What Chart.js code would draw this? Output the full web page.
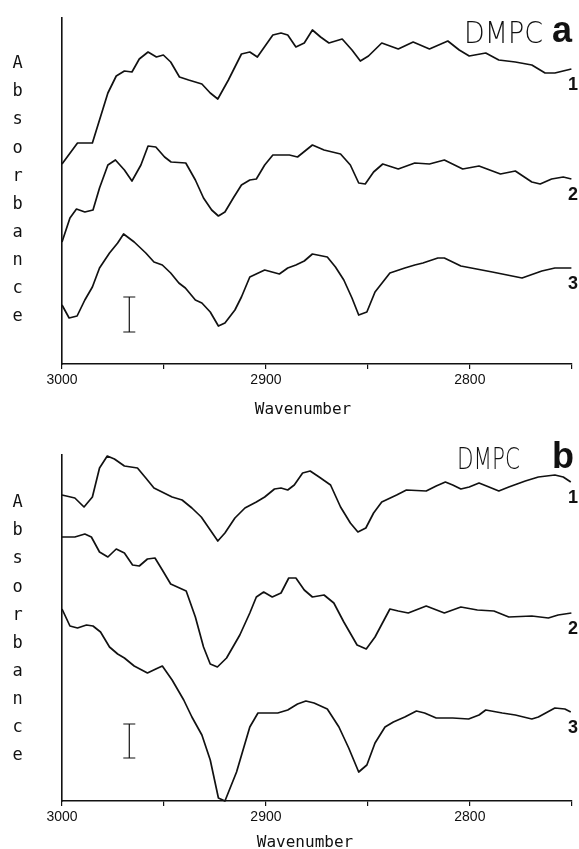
<!DOCTYPE html>
<html>
<head>
<meta charset="utf-8">
<script src="https://cdn.jsdelivr.net/npm/chart.js@4.4.1/dist/chart.umd.min.js"></script>
<style>
  html, body { margin: 0; padding: 0; background: #fff; }
  .panel { position: absolute; left: 0; width: 579px; }
  #wrapA { top: 0; height: 425px; }
  #wrapB { top: 425px; height: 424px; }
</style>
</head>
<body>
<div class="panel" id="wrapA"><canvas id="chartA"></canvas></div>
<div class="panel" id="wrapB"><canvas id="chartB"></canvas></div>
<script>
// panel a, spectrum 1..3 (wavenumber, absorbance offset units)
const a1Wn = [3000, 2992.4, 2985.1, 2977.5, 2973.4, 2969.4, 2965.7, 2962.1, 2957.8, 2953.7, 2950.3, 2946.7, 2942.4, 2937.9, 2931.4, 2927.3, 2923.6, 2918.4, 2912, 2907.9, 2904.2, 2896.6, 2892.6, 2889.3, 2885.3, 2881.2, 2877.2, 2873.2, 2869.1, 2862.6, 2857.8, 2853.7, 2849.7, 2843.2, 2835.1, 2827.8, 2819.8, 2810.8, 2805.2, 2800.3, 2792.2, 2785.8, 2777.7, 2769.6, 2763.1, 2758.3, 2750.2];
const a1Abs = [2.00, 2.21, 2.21, 2.71, 2.88, 2.93, 2.92, 3.05, 3.12, 3.07, 3.09, 3.02, 2.87, 2.84, 2.80, 2.71, 2.65, 2.84, 3.10, 3.12, 3.07, 3.29, 3.31, 3.29, 3.17, 3.21, 3.34, 3.27, 3.21, 3.25, 3.14, 3.03, 3.08, 3.21, 3.15, 3.22, 3.15, 3.23, 3.14, 3.08, 3.11, 3.04, 3.02, 2.99, 2.91, 2.91, 2.95];

const a2Wn = [3000, 2996.1, 2992.9, 2988.8, 2984.8, 2981.6, 2977.5, 2973.8, 2969.4, 2965.7, 2961.3, 2957.8, 2954, 2949.7, 2946.5, 2939.3, 2934.6, 2930.6, 2926.6, 2923.3, 2920.1, 2916, 2912, 2907.9, 2904.7, 2900.6, 2896.6, 2888.5, 2884.5, 2877.2, 2871.5, 2863.4, 2858.6, 2854.5, 2851.3, 2847.2, 2842.7, 2835.1, 2827, 2819.8, 2812.5, 2803.5, 2795.5, 2785, 2777.7, 2769.6, 2765.5, 2759.9, 2754.2, 2750.2];
const a2Abs = [1.22, 1.46, 1.55, 1.52, 1.54, 1.76, 1.99, 2.04, 1.94, 1.83, 1.99, 2.18, 2.17, 2.07, 2.02, 2.01, 1.84, 1.66, 1.54, 1.48, 1.52, 1.66, 1.79, 1.84, 1.85, 1.99, 2.09, 2.09, 2.07, 2.19, 2.14, 2.10, 1.99, 1.81, 1.80, 1.92, 2.00, 1.95, 2.01, 2.00, 2.04, 1.95, 1.98, 1.90, 1.93, 1.82, 1.80, 1.85, 1.87, 1.85];

const a3Wn = [3000, 2996.5, 2992.6, 2988.8, 2985.1, 2981.6, 2976.7, 2972.7, 2969.8, 2964.6, 2958.9, 2954.9, 2950.8, 2946.7, 2942.7, 2939.5, 2934.6, 2931.4, 2927.3, 2923.3, 2920.1, 2915.2, 2912, 2907.9, 2900.6, 2893.4, 2889.3, 2885.3, 2881.2, 2877.2, 2869.9, 2865.9, 2861.8, 2857.8, 2854.5, 2850.5, 2846.5, 2839.2, 2831.9, 2827, 2823, 2815.7, 2812.5, 2804.4, 2789, 2774.4, 2764.7, 2758.3, 2750.2];
const a3Abs = [0.59, 0.46, 0.48, 0.64, 0.77, 0.96, 1.11, 1.21, 1.30, 1.22, 1.11, 1.02, 0.99, 0.91, 0.81, 0.76, 0.64, 0.61, 0.52, 0.38, 0.41, 0.54, 0.67, 0.87, 0.94, 0.90, 0.96, 0.99, 1.03, 1.10, 1.07, 0.97, 0.84, 0.66, 0.49, 0.52, 0.72, 0.91, 0.96, 0.99, 1.01, 1.06, 1.06, 0.98, 0.92, 0.86, 0.93, 0.96, 0.96];

// panel b
const b1Wn = [3000, 2993.7, 2989.2, 2985.1, 2981.6, 2977.8, 2974.3, 2969.4, 2963, 2958.9, 2954.9, 2946, 2941.1, 2936.3, 2931.7, 2927.3, 2923.6, 2920.1, 2915.2, 2910.3, 2904.7, 2900.6, 2895.8, 2892.6, 2889.3, 2886.1, 2882, 2878.3, 2873.9, 2868.3, 2863.4, 2858.6, 2854.9, 2851, 2847.2, 2843.2, 2835.9, 2831.1, 2821.4, 2816.5, 2812, 2808.4, 2804.4, 2800.3, 2795.5, 2790.6, 2785.8, 2780.9, 2772.8, 2766.4, 2758.3, 2754.2, 2750.5];
const b1Abs = [3.06, 3.03, 2.94, 3.04, 3.33, 3.45, 3.42, 3.35, 3.33, 3.23, 3.13, 3.04, 3.01, 2.93, 2.84, 2.71, 2.60, 2.68, 2.83, 2.93, 2.99, 3.04, 3.12, 3.13, 3.11, 3.16, 3.28, 3.30, 3.24, 3.16, 2.94, 2.78, 2.69, 2.73, 2.88, 2.99, 3.06, 3.11, 3.10, 3.15, 3.19, 3.16, 3.12, 3.14, 3.18, 3.14, 3.10, 3.14, 3.20, 3.24, 3.26, 3.24, 3.19];

const b2Wn = [3000, 2993.7, 2988.8, 2985.6, 2981.6, 2977.5, 2973.4, 2969.4, 2965.4, 2962.1, 2958.1, 2954.4, 2950.8, 2946.7, 2939.1, 2934.6, 2930.6, 2927.3, 2923.8, 2919.3, 2912.8, 2907.9, 2904.7, 2901.1, 2896.9, 2892.6, 2888.8, 2885.3, 2881.2, 2877.2, 2871.5, 2866.7, 2861.8, 2855.3, 2850.8, 2846.5, 2839.2, 2835.1, 2830.2, 2821.4, 2812.5, 2804.4, 2796.3, 2788.2, 2780.9, 2769.6, 2761.5, 2756.7, 2750.2];
const b2Abs = [2.64, 2.64, 2.67, 2.64, 2.49, 2.44, 2.52, 2.48, 2.36, 2.35, 2.42, 2.43, 2.31, 2.17, 2.10, 1.84, 1.54, 1.37, 1.34, 1.43, 1.66, 1.88, 2.04, 2.09, 2.04, 2.08, 2.23, 2.23, 2.11, 2.04, 2.06, 1.98, 1.79, 1.56, 1.52, 1.64, 1.92, 1.90, 1.88, 1.95, 1.88, 1.94, 1.91, 1.90, 1.84, 1.85, 1.83, 1.86, 1.88];

const b3Wn = [3000, 2996.1, 2992.4, 2988, 2984.8, 2981.1, 2976.7, 2972.7, 2969.4, 2964.6, 2958.1, 2954, 2950.8, 2946, 2940.3, 2936.3, 2931.4, 2927.3, 2923.3, 2920.1, 2914.4, 2907.9, 2903.9, 2899, 2894.2, 2889.3, 2884.5, 2880.4, 2876.4, 2869.9, 2864.2, 2859.4, 2854.5, 2850.5, 2846.5, 2841.6, 2837.5, 2831.9, 2826.2, 2822.2, 2816.5, 2808.4, 2800.6, 2795.5, 2792.2, 2784.1, 2777.7, 2769.6, 2766.4, 2758.3, 2753.4, 2750.5];
const b3Abs = [1.92, 1.75, 1.73, 1.76, 1.75, 1.69, 1.54, 1.47, 1.43, 1.35, 1.28, 1.32, 1.35, 1.21, 1.01, 0.84, 0.66, 0.41, 0.03, 0.00, 0.29, 0.74, 0.88, 0.88, 0.88, 0.91, 0.97, 1.00, 0.98, 0.92, 0.74, 0.53, 0.29, 0.36, 0.58, 0.74, 0.79, 0.84, 0.90, 0.88, 0.83, 0.83, 0.82, 0.86, 0.91, 0.88, 0.86, 0.82, 0.84, 0.93, 0.92, 0.89];

// absorbance scale bars
const barWn = 2967;
const aBar = [0.32, 0.67];
const bBar = [0.43, 0.77];

const curveLabels = ['1', '2', '3'];
const yTitle = 'Absorbance';
const xTitle = 'Wavenumber';

function pts(wn, abs) {
    const out = [];
    for (let i = 0; i < Math.min(wn.length, abs.length); i++) {
        out.push({ x: wn[i], y: abs[i] });
    }
    return out;
}

function curve(wn, abs, label) {
    return {
        label: label,
        data: pts(wn, abs),
        borderColor: '#111',
        borderWidth: 1.7,
        borderJoinStyle: 'round',
        pointRadius: 0,
        tension: 0,
        clip: false
    };
}

// stacked letters, title, curve numbers
const textPlugin = {
    id: 'panelText',
    afterDraw(chart, args, o) {
        const ctx = chart.ctx;
        const y = chart.scales.y;
        ctx.save();
        ctx.fillStyle = '#111';

        ctx.font = '17px "DejaVu Sans Mono"';
        ctx.textAlign = 'center';
        ctx.textBaseline = 'alphabetic';
        for (let i = 0; i < yTitle.length; i++) {
            ctx.fillText(yTitle[i], 17.5, o.yTitleTop + i * 28.07);
        }

        ctx.font = '16px "DejaVu Sans Mono"';
        ctx.fillText(xTitle, o.xTitleX, o.xTitleY);

        ctx.textAlign = 'left';
        ctx.font = '200 30px "DejaVu Sans"';
        ctx.fillText('DMPC', o.nameX, o.nameY, o.nameW);
        ctx.font = 'bold 36px "Liberation Sans", Arial, sans-serif';
        ctx.fillText(o.letter, 552, o.letterY);

        ctx.textAlign = 'right';
        ctx.textBaseline = 'middle';
        ctx.font = 'bold 18px "Liberation Sans", Arial, sans-serif';
        chart.data.datasets.slice(0, 3).forEach((ds, i) => {
            const last = ds.data[ds.data.length - 1];
            ctx.fillText(curveLabels[i], 578, y.getPixelForValue(last.y) + 16);
        });
        ctx.restore();
    }
};

function makePanel(id, series, bar, o) {
    const datasets = series.map((s, i) => curve(s[0], s[1], curveLabels[i]));
    datasets.push({
        label: 'bar',
        data: [{ x: barWn, y: bar[0] }, { x: barWn, y: bar[1] }],
        borderColor: '#111',
        borderWidth: 1.2,
        pointStyle: 'line',
        pointRadius: 6,
        pointBorderWidth: 1.2,
        pointBorderColor: '#111'
    });

    new Chart(id, {
        type: 'line',
        data: { datasets: datasets },
        options: {
            responsive: true,
            maintainAspectRatio: false,
            animation: false,
            events: [],
            layout: { padding: { top: o.top, right: 2, left: 0, bottom: 0 } },
            plugins: {
                legend: { display: false },
                tooltip: { enabled: false },
                panelText: o
            },
            scales: {
                x: {
                    type: 'linear',
                    reverse: true,
                    min: 2750,
                    max: 3000,
                    afterFit: (scale) => { scale.height = o.xHeight; },
                    grid: { drawOnChartArea: false, tickLength: 5, color: '#111', lineWidth: 1.2 },
                    border: { color: '#111', width: 1.6 },
                    ticks: {
                        stepSize: 50,
                        autoSkip: false,
                        maxRotation: 0,
                        padding: 3,
                        color: '#111',
                        font: { family: '"Liberation Sans Narrow", "Liberation Sans", Arial', size: 14 },
                        callback: (v) => (v % 100 === 0 ? String(v) : '')
                    }
                },
                y: {
                    min: 0,
                    max: 3.46,
                    afterFit: (scale) => { scale.width = 62; },
                    grid: { display: false },
                    border: { color: '#111', width: 1.6 },
                    ticks: { display: false }
                }
            }
        },
        plugins: [textPlugin]
    });
}

makePanel('chartA', [[a1Wn, a1Abs], [a2Wn, a2Abs], [a3Wn, a3Abs]], aBar, {
    top: 18, xHeight: 61, letter: 'a',
    yTitleTop: 68.3, xTitleX: 303, xTitleY: 414,
    nameX: 464, nameY: 43.3, nameW: 79, letterY: 42.3
});

makePanel('chartB', [[b1Wn, b1Abs], [b2Wn, b2Abs], [b3Wn, b3Abs]], bBar, {
    top: 30, xHeight: 48, letter: 'b',
    yTitleTop: 82.3, xTitleX: 305, xTitleY: 421.7,
    nameX: 457, nameY: 44, nameW: 63, letterY: 43.3
});
</script>
</body>
</html>
